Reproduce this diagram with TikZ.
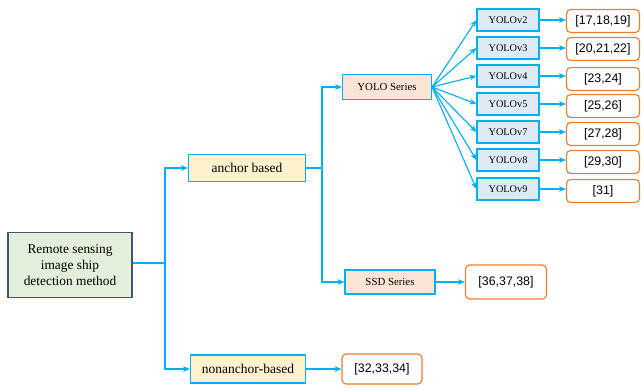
\documentclass[tikz,border=0pt]{standalone}
\usepackage{fontspec}
\setmainfont{Liberation Serif}
\newfontfamily\refsf{Liberation Sans}
\usetikzlibrary{arrows.meta}
\definecolor{lnc}{HTML}{00B0F0}
\definecolor{orc}{HTML}{ED7D31}
\definecolor{ycol}{HTML}{DEEBF7}
\definecolor{acol}{HTML}{FFF2CC}
\definecolor{scol}{HTML}{FBE5D6}
\begin{document}
\begin{tikzpicture}[x=0.025cm,y=-0.025cm,>={Stealth[length=5pt,width=4pt]},
  every node/.style={align=center,inner sep=0pt},
  box/.style={draw=lnc,line width=0.8pt},
  ver/.style={box,fill=ycol,minimum width=1.55cm,minimum height=0.55cm,font=\fontsize{7.3}{8}\selectfont},
  ref/.style={draw=orc,line width=0.8pt,rounded corners=3pt,minimum width=1.825cm,minimum height=0.575cm,font=\refsf\fontsize{8.8}{10}\selectfont},
  line/.style={draw=lnc,line width=0.8pt}]
\useasboundingbox (0,0) rectangle (644,388);
\node[draw={rgb,255:red,68;green,84;blue,106},line width=0.8pt,fill={rgb,255:red,226;green,239;blue,218},
  minimum width=3.1cm,minimum height=1.625cm,font=\fontsize{9.5}{11.5}\selectfont] (rs) at (70,265)
  {Remote sensing\\image ship\\detection method};
\node[box,fill=acol,minimum width=2.925cm,minimum height=0.675cm,
  font=\fontsize{9.6}{10}\selectfont] (ab) at (247,168) {anchor based};
\node[box,fill=acol,minimum width=2.875cm,minimum height=0.7cm,
  font=\fontsize{9.6}{10}\selectfont] (nb) at (248,369) {nonanchor\textbf{-}based};
\node[box,fill=scol,minimum width=2.225cm,minimum height=0.625cm,
  font=\fontsize{7.7}{8}\selectfont] (ys) at (387,87) {YOLO Series};
\node[box,fill=scol,minimum width=2.25cm,minimum height=0.6cm,
  font=\fontsize{7.7}{8}\selectfont] (ss) at (390,282) {SSD Series};
\node[ref,minimum width=2.025cm,minimum height=0.85cm] (rss) at (506,282) {[36,37,38]};
\node[ref,minimum width=2cm,minimum height=0.75cm] (rnb) at (382,369) {[32,33,34]};
% YOLO versions and their references
\foreach \v/\y/\r/\ry in {2/20/{[17,18,19]}/21, 3/48/{[20,21,22]}/49, 4/76/{[23,24]}/79,
  5/104/{[25,26]}/106, 7/132/{[27,28]}/134, 8/160/{[29,30]}/162, 9/189/{[31]}/191}{
  \node[ver] (v\v) at (508,\y) {YOLOv\v};
  \node[ref] (r\v) at (603,\ry) {\r};
  \draw[line,->] (ys.east)--(v\v.west);
  \draw[line,->] (v\v.east)--(v\v.east-|r\v.west);
}
\coordinate (j1) at (165,263);
\coordinate (j2) at (322,168);
\draw[line] (rs.east|-j1)--(j1);
\draw[line,->] (j1)|-(ab.west);
\draw[line,->] (j1)|-(nb.west);
\draw[line] (ab.east)--(j2);
\draw[line,->] (j2)|-(ys.west);
\draw[line,->] (j2)|-(ss.west);
\draw[line,->] (ss.east)--(rss.west);
\draw[line,->] (nb.east)--(rnb.west);
\end{tikzpicture}
\end{document}
